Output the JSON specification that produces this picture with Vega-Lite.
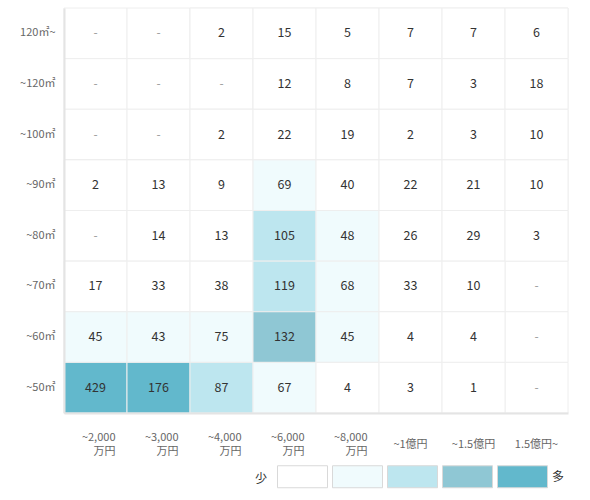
{
  "$schema": "https://vega.github.io/schema/vega-lite/v6.json",
  "autosize": "none",
  "width": 504,
  "height": 405,
  "padding": {"left": 64, "top": 8, "right": 22, "bottom": 87},
  "background": "white",
  "view": {"stroke": null},
  "config": {"font": "Noto Sans CJK JP"},
  "data": {
    "values": [
      {"area": "120㎡~", "price": "~2,000万円", "n": null},
      {"area": "120㎡~", "price": "~3,000万円", "n": null},
      {"area": "120㎡~", "price": "~4,000万円", "n": 2},
      {"area": "120㎡~", "price": "~6,000万円", "n": 15},
      {"area": "120㎡~", "price": "~8,000万円", "n": 5},
      {"area": "120㎡~", "price": "~1億円", "n": 7},
      {"area": "120㎡~", "price": "~1.5億円", "n": 7},
      {"area": "120㎡~", "price": "1.5億円~", "n": 6},
      {"area": "~120㎡", "price": "~2,000万円", "n": null},
      {"area": "~120㎡", "price": "~3,000万円", "n": null},
      {"area": "~120㎡", "price": "~4,000万円", "n": null},
      {"area": "~120㎡", "price": "~6,000万円", "n": 12},
      {"area": "~120㎡", "price": "~8,000万円", "n": 8},
      {"area": "~120㎡", "price": "~1億円", "n": 7},
      {"area": "~120㎡", "price": "~1.5億円", "n": 3},
      {"area": "~120㎡", "price": "1.5億円~", "n": 18},
      {"area": "~100㎡", "price": "~2,000万円", "n": null},
      {"area": "~100㎡", "price": "~3,000万円", "n": null},
      {"area": "~100㎡", "price": "~4,000万円", "n": 2},
      {"area": "~100㎡", "price": "~6,000万円", "n": 22},
      {"area": "~100㎡", "price": "~8,000万円", "n": 19},
      {"area": "~100㎡", "price": "~1億円", "n": 2},
      {"area": "~100㎡", "price": "~1.5億円", "n": 3},
      {"area": "~100㎡", "price": "1.5億円~", "n": 10},
      {"area": "~90㎡", "price": "~2,000万円", "n": 2},
      {"area": "~90㎡", "price": "~3,000万円", "n": 13},
      {"area": "~90㎡", "price": "~4,000万円", "n": 9},
      {"area": "~90㎡", "price": "~6,000万円", "n": 69},
      {"area": "~90㎡", "price": "~8,000万円", "n": 40},
      {"area": "~90㎡", "price": "~1億円", "n": 22},
      {"area": "~90㎡", "price": "~1.5億円", "n": 21},
      {"area": "~90㎡", "price": "1.5億円~", "n": 10},
      {"area": "~80㎡", "price": "~2,000万円", "n": null},
      {"area": "~80㎡", "price": "~3,000万円", "n": 14},
      {"area": "~80㎡", "price": "~4,000万円", "n": 13},
      {"area": "~80㎡", "price": "~6,000万円", "n": 105},
      {"area": "~80㎡", "price": "~8,000万円", "n": 48},
      {"area": "~80㎡", "price": "~1億円", "n": 26},
      {"area": "~80㎡", "price": "~1.5億円", "n": 29},
      {"area": "~80㎡", "price": "1.5億円~", "n": 3},
      {"area": "~70㎡", "price": "~2,000万円", "n": 17},
      {"area": "~70㎡", "price": "~3,000万円", "n": 33},
      {"area": "~70㎡", "price": "~4,000万円", "n": 38},
      {"area": "~70㎡", "price": "~6,000万円", "n": 119},
      {"area": "~70㎡", "price": "~8,000万円", "n": 68},
      {"area": "~70㎡", "price": "~1億円", "n": 33},
      {"area": "~70㎡", "price": "~1.5億円", "n": 10},
      {"area": "~70㎡", "price": "1.5億円~", "n": null},
      {"area": "~60㎡", "price": "~2,000万円", "n": 45},
      {"area": "~60㎡", "price": "~3,000万円", "n": 43},
      {"area": "~60㎡", "price": "~4,000万円", "n": 75},
      {"area": "~60㎡", "price": "~6,000万円", "n": 132},
      {"area": "~60㎡", "price": "~8,000万円", "n": 45},
      {"area": "~60㎡", "price": "~1億円", "n": 4},
      {"area": "~60㎡", "price": "~1.5億円", "n": 4},
      {"area": "~60㎡", "price": "1.5億円~", "n": null},
      {"area": "~50㎡", "price": "~2,000万円", "n": 429},
      {"area": "~50㎡", "price": "~3,000万円", "n": 176},
      {"area": "~50㎡", "price": "~4,000万円", "n": 87},
      {"area": "~50㎡", "price": "~6,000万円", "n": 67},
      {"area": "~50㎡", "price": "~8,000万円", "n": 4},
      {"area": "~50㎡", "price": "~1億円", "n": 3},
      {"area": "~50㎡", "price": "~1.5億円", "n": 1},
      {"area": "~50㎡", "price": "1.5億円~", "n": null}
    ]
  },
  "encoding": {
    "x": {
      "field": "price",
      "type": "ordinal",
      "sort": ["~2,000万円", "~3,000万円", "~4,000万円", "~6,000万円", "~8,000万円", "~1億円", "~1.5億円", "1.5億円~"],
      "scale": {"paddingInner": 0, "paddingOuter": 0},
      "axis": {
        "title": null,
        "labelAngle": 0,
        "ticks": false,
        "tickSize": 0,
        "labelPadding": 31,
        "labelFontSize": 11,
        "labelLineHeight": 14,
        "labelColor": "#666666",
        "domainColor": "#e4e4e4",
        "domainWidth": 2,
        "labelExpr": "indexof(datum.value, '万円') > 0 ? [replace(datum.value, '万円', ''), '万円'] : datum.value",
        "labelBaseline": {"condition": {"test": "indexof(datum.value, '万円') > 0", "value": "line-bottom"}, "value": "middle"},
        "labelAlign": {"condition": {"test": "indexof(datum.value, '万円') > 0", "value": "right"}, "value": "center"},
        "labelOffset": {"condition": {"test": "indexof(datum.value, '万円') > 0", "value": 20}, "value": 0}
      }
    },
    "y": {
      "field": "area",
      "type": "ordinal",
      "sort": ["120㎡~", "~120㎡", "~100㎡", "~90㎡", "~80㎡", "~70㎡", "~60㎡", "~50㎡"],
      "scale": {"paddingInner": 0, "paddingOuter": 0},
      "axis": {
        "title": null,
        "ticks": false,
        "tickSize": 0,
        "labelPadding": 9,
        "labelFontSize": 11,
        "labelColor": "#666666",
        "domainColor": "#e4e4e4",
        "domainWidth": 2
      }
    }
  },
  "layer": [
    {"mark": {"type": "rect", "fill": "white", "stroke": "#eeeeee", "strokeWidth": 1}},
    {
      "transform": [{"filter": "datum.n != null"}],
      "mark": {"type": "rect", "stroke": "#eeeeee", "strokeWidth": 1},
      "encoding": {
        "color": {
          "field": "n",
          "type": "quantitative",
          "scale": {
            "type": "threshold",
            "domain": [42, 80, 125, 150],
            "range": ["#ffffff", "#f0fbfd", "#bde6ef", "#8fc7d4", "#62b8cc"]
          },
          "legend": {
            "orient": "none",
            "legendX": 191,
            "legendY": 443,
            "direction": "horizontal",
            "title": "少",
            "titleOrient": "left",
            "titleAnchor": "middle",
            "titleBaseline": "line-top",
            "titleLineHeight": 20,
            "titleFontSize": 12,
            "titleFontWeight": "normal",
            "titleColor": "#333333",
            "titlePadding": 9,
            "symbolType": "M-1,-0.44H1V0.44H-1Z",
            "symbolSize": 2500,
            "symbolStrokeColor": "#d9d9d9",
            "symbolStrokeWidth": 1,
            "symbolOpacity": 1,
            "labelExpr": "datum.index == 4 ? '\u00a0\u00a0多' : ''",
            "labelOffset": 4,
            "labelFontSize": 12,
            "labelColor": "#333333",
            "columnPadding": -2,
            "padding": 0,
            "encode": {"symbols": {"update": {"stroke": {"value": "#d9d9d9"}, "strokeWidth": {"value": 1}}}}
          }
        },
        "opacity": {
          "field": "n",
          "type": "quantitative",
          "scale": {
            "type": "threshold",
            "domain": [42, 80, 125, 150],
            "range": [1, 1, 1, 1, 1]
          },
          "legend": {
            "orient": "none",
            "legendX": 191,
            "legendY": 443,
            "direction": "horizontal",
            "title": "少",
            "titleOrient": "left",
            "titleAnchor": "middle",
            "titleBaseline": "line-top",
            "titleLineHeight": 20,
            "titleFontSize": 12,
            "titleFontWeight": "normal",
            "titleColor": "#333333",
            "titlePadding": 9,
            "symbolType": "M-1,-0.44H1V0.44H-1Z",
            "symbolSize": 2500,
            "symbolStrokeColor": "#d9d9d9",
            "symbolStrokeWidth": 1,
            "labelExpr": "datum.index == 4 ? '\u00a0\u00a0多' : ''",
            "labelOffset": 4,
            "labelFontSize": 12,
            "labelColor": "#333333",
            "columnPadding": -2,
            "padding": 0,
            "encode": {"symbols": {"update": {"stroke": {"value": "#d9d9d9"}, "strokeWidth": {"value": 1}}}}
          }
        }
      }
    },
    {
      "transform": [{"filter": "datum.n != null"}],
      "mark": {"type": "text", "fontSize": 12.5, "color": "#333333"},
      "encoding": {"text": {"field": "n", "type": "quantitative"}}
    },
    {
      "transform": [{"filter": "datum.n == null"}],
      "mark": {"type": "text", "text": "-", "fontSize": 12, "color": "#999999"}
    }
  ]
}
